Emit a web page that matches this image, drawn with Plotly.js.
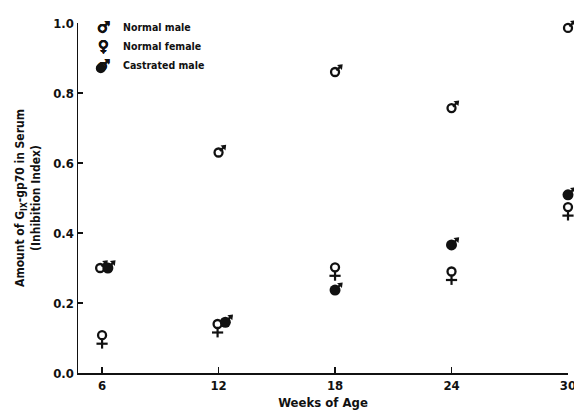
<!DOCTYPE html>
<html>
<head>
<meta charset="utf-8">
<script src="https://cdn.plot.ly/plotly-3.0.1.min.js"></script>
<style>html,body{margin:0;padding:0;background:#fff;}</style>
</head>
<body>
<div id="chart" style="width:574px;height:414px;"></div>
<script>
// ---- data ----
var weekTicks = [6, 12, 18, 24, 30];
var maleWeeks = [5.9, 12, 18, 24, 30];
var normalMale = [0.30, 0.63, 0.86, 0.757, 0.986];
var femaleWeeks = [6, 11.95, 18, 24, 30];
var normalFemale = [0.108, 0.14, 0.302, 0.29, 0.474];
var castratedWeeks = [6.3, 12.35, 18, 24, 30];
var castratedMale = [0.30, 0.145, 0.237, 0.366, 0.509];
var seriesNames = ["Normal male", "Normal female", "Castrated male"];

var FONT = "'Liberation Sans Narrow', 'DejaVu Sans Condensed', 'Arial Narrow', sans-serif";
var K = "#111";

// each sex symbol is drawn from marker parts placed at the data point
function part(x, y, name, marker) {
  return {x: x, y: y, type: "scatter", mode: "markers", name: name,
          showlegend: false, cliponaxis: false, hoverinfo: "skip", marker: marker};
}
function ring(filled) {
  return {symbol: filled ? "circle" : "circle-open", size: filled ? 11 : 8, color: K,
          line: {color: K, width: filled ? 0 : 2.3}};
}
var maleStem = {symbol: "line-ns", size: 5, angle: 225, standoff: 5.5, color: K, line: {color: K, width: 2.2}};
var maleHead = {symbol: "triangle-down", size: 6, angle: 225, standoff: 7.8, color: K, line: {width: 0}};
var femaleStem = {symbol: "line-ns", size: 7, angle: 0, standoff: 8.5, color: K, line: {color: K, width: 2.2}};
var femaleBar = {symbol: "line-ew", size: 8, angle: 0, standoff: 8.5, color: K, line: {color: K, width: 2.2}};

var data = [
  part(maleWeeks, normalMale, seriesNames[0], ring(false)),
  part(maleWeeks, normalMale, seriesNames[0], maleStem),
  part(maleWeeks, normalMale, seriesNames[0], maleHead),
  part(femaleWeeks, normalFemale, seriesNames[1], ring(false)),
  part(femaleWeeks, normalFemale, seriesNames[1], femaleStem),
  part(femaleWeeks, normalFemale, seriesNames[1], femaleBar),
  part(castratedWeeks, castratedMale, seriesNames[2], ring(true)),
  part(castratedWeeks, castratedMale, seriesNames[2], maleStem),
  part(castratedWeeks, castratedMale, seriesNames[2], maleHead)
];

// legend as annotations (symbol glyph + label)
var legRowsY = [0.989, 0.934, 0.88];
var glyphs = ["\u2642", "\u2640", "\u2642"];
var thick = "0.5px 0 0 #111, -0.5px 0 0 #111, 0 0.5px 0 #111, 0 -0.5px 0 #111";
var annotations = [];
for (var i = 0; i < 3; i++) {
  annotations.push({xref: "paper", yref: "paper", x: 0.053, y: legRowsY[i], text: glyphs[i],
    showarrow: false, xanchor: "center", yanchor: "middle",
    font: {family: "DejaVu Sans", size: 15, weight: "bold", color: K, shadow: thick}});
  annotations.push({xref: "paper", yref: "paper", x: 0.088, y: legRowsY[i], text: seriesNames[i],
    showarrow: false, xanchor: "left", yanchor: "middle",
    font: {family: FONT, size: 10.5, weight: "bold", color: K}});
}
// filled disc of the "castrated male" legend symbol
var shapes = [{type: "circle", xref: "paper", yref: "paper",
  x0: 0.0363, x1: 0.0567, y0: 0.8566, y1: 0.8851,
  fillcolor: K, line: {width: 0}}];

var layout = {
  width: 574, height: 414,
  margin: {l: 78, r: 6, t: 23, b: 41},
  paper_bgcolor: "#fff", plot_bgcolor: "#fff",
  showlegend: false,
  font: {family: FONT, color: K},
  xaxis: {
    range: [4.76, 30], tickvals: weekTicks, ticktext: weekTicks.map(String),
    ticklabeloverflow: "allow",
    showgrid: false, zeroline: false, showline: true, linecolor: K, linewidth: 1.5,
    ticks: "inside", ticklen: 6, tickwidth: 1.5, tickcolor: K,
    tickfont: {family: FONT, size: 13, weight: "bold", color: K},
    title: {text: "Weeks of Age", font: {family: FONT, size: 13, weight: "bold", color: K}, standoff: 6}
  },
  yaxis: {
    range: [0, 1.0], tickvals: [0, 0.2, 0.4, 0.6, 0.8, 1.0], tickformat: ".1f",
    showgrid: false, zeroline: false, showline: true, linecolor: K, linewidth: 1.5,
    ticks: "inside", ticklen: 5, tickwidth: 1.5, tickcolor: K,
    tickfont: {family: FONT, size: 13, weight: "bold", color: K},
    title: {text: "Amount of G<sub>IX</sub>-gp70 in Serum<br>(Inhibition Index)",
            font: {family: FONT, size: 12, weight: "bold", color: K}, standoff: 10}
  },
  annotations: annotations,
  shapes: shapes
};

Plotly.newPlot("chart", data, layout, {displayModeBar: false, staticPlot: true});
</script>
</body>
</html>
